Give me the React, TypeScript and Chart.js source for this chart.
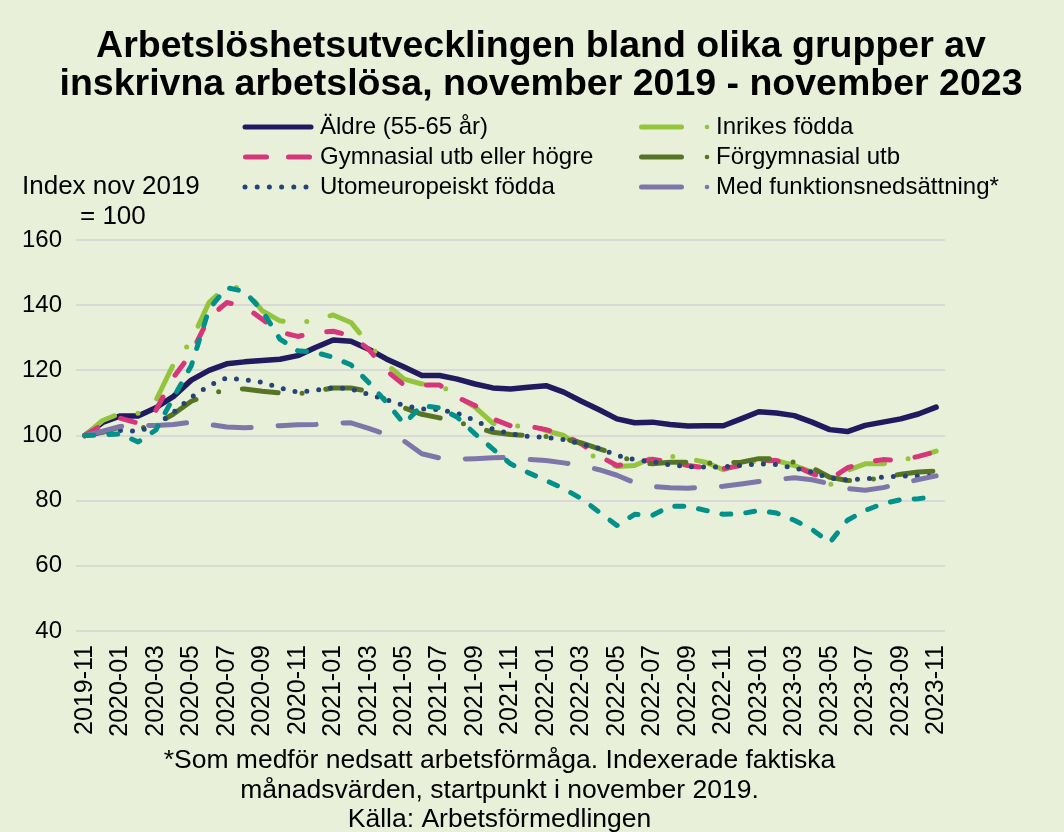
import React, { useEffect, useRef } from "react";
import { Chart, registerables } from "chart.js";

Chart.register(...registerables);

const months = [
  "2019-11", "2019-12",
  "2020-01", "2020-02", "2020-03", "2020-04", "2020-05", "2020-06", "2020-07", "2020-08", "2020-09", "2020-10", "2020-11", "2020-12",
  "2021-01", "2021-02", "2021-03", "2021-04", "2021-05", "2021-06", "2021-07", "2021-08", "2021-09", "2021-10", "2021-11", "2021-12",
  "2022-01", "2022-02", "2022-03", "2022-04", "2022-05", "2022-06", "2022-07", "2022-08", "2022-09", "2022-10", "2022-11", "2022-12",
  "2023-01", "2023-02", "2023-03", "2023-04", "2023-05", "2023-06", "2023-07", "2023-08", "2023-09", "2023-10", "2023-11",
];

const aldre = [
  100, 104, 106, 106, 108.5, 112, 117, 120, 122, 122.6, 123, 123.4, 124.5,
  127, 129.3, 128.9, 126.5, 123.5, 121, 118.4, 118.4, 117.3, 115.8, 114.6, 114.3,
  114.8, 115.3, 113.3, 110.5, 107.9, 105.1, 103.9, 104.1, 103.4, 102.9, 103, 103,
  105.1, 107.3, 106.9, 106.1, 104.1, 101.8, 101.2, 103.1, 104.1, 105.1, 106.6, 108.7,
];

const inrikes = [
  100, 104.6, 106.8, 106.8, 110.7, 121.9, 129, 140.8, 145.9, 145, 138.3, 135.2, 134.4,
  135.5, 137, 134.7, 128.1, 121.9, 117.3, 115.8, 115.6, 112, 108.7, 103.8, 102.5,
  103.6, 101.5, 100, 96.4, 92.3, 90.5, 90.8, 93.2, 93.7, 92.9, 91.8, 89.5,
  91.3, 92.3, 92.3, 90.8, 88.8, 84.7, 89.3, 91.3, 91.3, 92.3, 93.6, 95.2,
];

const gymnasial = [
  100, 103.3, 105.3, 103.8, 107.7, 117.9, 125.2, 136.2, 140.8, 139.6, 135.7, 131.8, 130.4,
  131.6, 132, 130.6, 126.5, 119.9, 115.5, 115.5, 115.5, 111.7, 109.2, 105.1, 103,
  102.9, 101.8, 100.3, 97.4, 93.7, 90.8, 91.5, 92.7, 91.8, 90.8, 90.1, 89.8,
  90.8, 92.3, 92.3, 90.8, 88.3, 86.5, 90.1, 91.8, 92.6, 92.3, 93.6, 95.1,
];

const forgymnasial = [
  100, 101, 102.6, 102, 103.5, 106.6, 110.5, 112.6, 114.1, 114.3, 113.6, 113.1, 112.8,
  113.6, 114.6, 114.6, 113.5, 111, 108.5, 106.5, 105.4, 104.1, 102.6, 101, 100.3,
  100, 99.7, 99, 97.7, 95.9, 94.2, 91.8, 91.3, 91.8, 91.8, 91.5, 91.6,
  91.8, 92.9, 92.9, 91.8, 90.1, 87.2, 86.2, 86.2, 87.2, 88.1, 88.8, 89.1,
];

const utomeuropeiskt = [
  100, 101, 101.5, 101.3, 103, 107.1, 111.7, 115.3, 117.7, 117.1, 116.3, 114.6, 113.3,
  113.9, 114.7, 114.3, 112.6, 111, 109.2, 108.2, 107.9, 106.8, 104.6, 102, 100.5,
  99.7, 99.5, 98.7, 97.4, 96.1, 93.9, 92.6, 92, 91, 90.4, 90.3, 90.4,
  90.8, 91.3, 91.1, 90, 88.8, 86.9, 86.4, 86.7, 87.2, 87.6, 87.6, 87.6,
];

const funktion = [
  100, 101.3, 102.8, 103, 103.1, 103.4, 104.1, 103.4, 102.6, 102.4, 102.6, 103, 103.3,
  103.4, 103.8, 103.9, 102.2, 100.3, 98.3, 94.4, 93.1, 92.7, 92.9, 93.2, 93.3,
  92.7, 92.3, 91.6, 90.8, 89.5, 87.8, 85.5, 84.4, 84, 83.8, 84.2, 84.4,
  85.1, 85.9, 86.5, 87, 86.4, 85.2, 83.7, 83.2, 84, 85.2, 86.5, 87.6,
];

const teal = [
  100, 100.2, 100.5, 98, 101.7, 111.7, 121.4, 138.8, 145.4, 144.2, 138.3, 129.6, 126,
  125.5, 124, 121.7, 116.3, 110.2, 103.6, 109.2, 108.5, 105.6, 100.5, 95.9, 91.3,
  88.6, 86.2, 83.7, 80.6, 76.5, 72.4, 75.8, 75.5, 78.3, 78.3, 77, 75.8,
  76, 77, 76.2, 74, 71.2, 67.1, 74, 77, 79.1, 80.3, 80.6, 81.3,
];

const titleLines = [
  "Arbetslöshetsutvecklingen bland olika grupper av",
  "inskrivna arbetslösa, november 2019 - november 2023",
];
const footerLines = [
  "*Som medför nedsatt arbetsförmåga. Indexerade faktiska",
  "månadsvärden, startpunkt i november 2019.",
  "Källa: Arbetsförmedlingen",
];
const axisTitleLines = ["Index nov 2019", "= 100"];

const COL = {
  aldre: "#211a5f",
  inrikes: "#93c43c",
  gym: "#d8367a",
  forgym: "#567424",
  utom: "#244479",
  funk: "#7e76a8",
  teal: "#02908b",
  bg: "#e8f0da",
  grid: "#d9d9d9",
};

const FONT = "'Liberation Sans', Arial, sans-serif";

type LegendItem = { label: string; color: string; style: string; col: number; row: number };
const legendItems: LegendItem[] = [
  { label: "Äldre (55-65 år)", color: COL.aldre, style: "solid", col: 0, row: 0 },
  { label: "Gymnasial utb eller högre", color: COL.gym, style: "dash", col: 0, row: 1 },
  { label: "Utomeuropeiskt födda", color: COL.utom, style: "dot", col: 0, row: 2 },
  { label: "Inrikes födda", color: COL.inrikes, style: "bardot", col: 1, row: 0 },
  { label: "Förgymnasial utb", color: COL.forgym, style: "bardot", col: 1, row: 1 },
  { label: "Med funktionsnedsättning*", color: COL.funk, style: "bardot", col: 1, row: 2 },
];

const textPlugin = {
  id: "texts",
  beforeDraw(chart: any) {
    const ctx = chart.ctx;
    ctx.save();
    ctx.fillStyle = COL.bg;
    ctx.fillRect(0, 0, chart.width, chart.height);
    ctx.restore();
  },
  afterDraw(chart: any) {
    const ctx: CanvasRenderingContext2D = chart.ctx;
    ctx.save();
    ctx.fillStyle = "#000";
    ctx.textBaseline = "middle";

    // title
    ctx.font = `bold 37.5px ${FONT}`;
    ctx.textAlign = "center";
    titleLines.forEach((t, i) => ctx.fillText(t, 541, 47 + i * 38));

    // axis title
    ctx.font = `26px ${FONT}`;
    ctx.textAlign = "left";
    ctx.fillText(axisTitleLines[0], 22, 187);
    ctx.fillText(axisTitleLines[1], 80, 217);

    // legend
    const rowsY = [127, 157, 187];
    legendItems.forEach((it) => {
      const y = rowsY[it.row];
      ctx.strokeStyle = it.color;
      ctx.fillStyle = it.color;
      ctx.lineWidth = 5;
      ctx.lineCap = "round";
      if (it.col === 0) {
        if (it.style === "solid") {
          ctx.setLineDash([]);
          ctx.beginPath();
          ctx.moveTo(245, y);
          ctx.lineTo(311, y);
          ctx.stroke();
        } else if (it.style === "dash") {
          ctx.setLineDash([21, 22]);
          ctx.beginPath();
          ctx.moveTo(245.5, y);
          ctx.lineTo(311, y);
          ctx.stroke();
          ctx.setLineDash([]);
        } else {
          for (let k = 0; k < 6; k++) {
            ctx.beginPath();
            ctx.arc(245 + k * 12.2, y, 2.5, 0, Math.PI * 2);
            ctx.fill();
          }
        }
      } else {
        ctx.setLineDash([]);
        ctx.beginPath();
        ctx.moveTo(641.5, y);
        ctx.lineTo(681.5, y);
        ctx.stroke();
        ctx.beginPath();
        ctx.arc(707, y, 2.3, 0, Math.PI * 2);
        ctx.fill();
      }
      ctx.fillStyle = "#000";
      ctx.font = `24px ${FONT}`;
      ctx.textAlign = "left";
      ctx.fillText(it.label, it.col === 0 ? 320 : 716, y);
    });

    // footer
    ctx.font = `26.5px ${FONT}`;
    ctx.textAlign = "center";
    ctx.textBaseline = "alphabetic";
    ctx.fillStyle = "#000";
    footerLines.forEach((t, i) => ctx.fillText(t, 499.5, 768 + i * 29.5));
    ctx.restore();
  },
};

export default function App() {
  const ref = useRef<HTMLCanvasElement>(null);
  useEffect(() => {
    document.body.style.margin = "0";
    const common = {
      pointRadius: 0,
      pointHoverRadius: 0,
      tension: 0,
      fill: false,
      borderCapStyle: "round" as const,
      borderJoinStyle: "round" as const,
    };
    const chart = new Chart(ref.current!, {
      type: "line",
      data: {
        labels: months,
        datasets: [
          { ...common, label: "Äldre (55-65 år)", data: aldre, borderColor: COL.aldre, borderWidth: 5.5, order: 7 },
          { ...common, label: "Inrikes födda", data: inrikes, borderColor: COL.inrikes, borderWidth: 5, borderDash: [36, 24, 0, 24], order: 6 },
          { ...common, label: "Gymnasial utb eller högre", data: gymnasial, borderColor: COL.gym, borderWidth: 5, borderDash: [15, 25], order: 5 },
          { ...common, label: "Förgymnasial utb", data: forgymnasial, borderColor: COL.forgym, borderWidth: 5, borderDash: [36, 24, 0, 24], order: 4 },
          { ...common, label: "Utomeuropeiskt födda", data: utomeuropeiskt, borderColor: COL.utom, borderWidth: 5, borderDash: [0, 12], order: 3 },
          { ...common, label: "Med funktionsnedsättning*", data: funktion, borderColor: COL.funk, borderWidth: 5, borderDash: [38, 27], order: 2 },
          { ...common, label: "Unga", data: teal, borderColor: COL.teal, borderWidth: 5, borderDash: [9, 15], order: 1 },
        ],
      },
      options: {
        responsive: false,
        devicePixelRatio: 1,
        animation: false,
        events: [],
        layout: { padding: { top: 240, right: 119, bottom: 90, left: 0 } },
        plugins: {
          legend: { display: false },
          title: { display: false },
          tooltip: { enabled: false },
        },
        scales: {
          x: {
            type: "category",
            offset: true,
            grid: { display: false, drawTicks: false },
            border: { display: false },
            ticks: {
              autoSkip: false,
              minRotation: 90,
              maxRotation: 90,
              padding: 14,
              color: "#000",
              font: { family: FONT, size: 25 },
              callback: function (this: any, val: any, idx: number) {
                return idx % 2 === 0 ? months[idx] : "";
              },
            },
            afterFit: (s: any) => {
              s.height = 111;
            },
          },
          y: {
            min: 40,
            max: 160,
            grid: { color: COL.grid, lineWidth: 2, drawTicks: false },
            border: { display: false },
            ticks: {
              stepSize: 20,
              padding: 14,
              color: "#000",
              font: { family: FONT, size: 24 },
            },
            afterFit: (s: any) => {
              s.width = 76;
            },
          },
        },
      },
      plugins: [textPlugin],
    });
    return () => chart.destroy();
  }, []);
  return (
    <div style={{ width: 1064, height: 832 }}>
      <canvas ref={ref} width={1064} height={832} style={{ display: "block" }} />
    </div>
  );
}
